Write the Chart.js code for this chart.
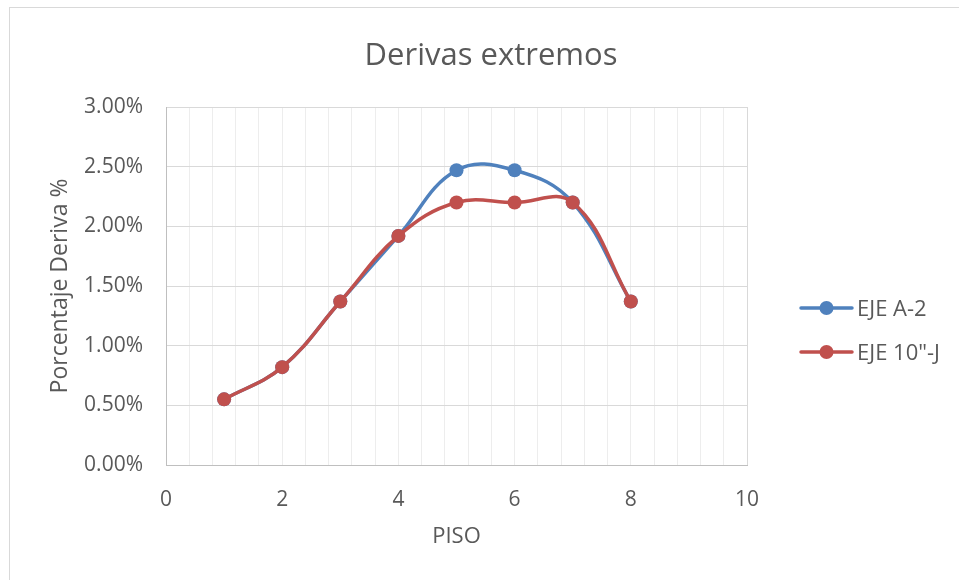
<!DOCTYPE html>
<html>
<head>
<meta charset="utf-8">
<title>Derivas extremos</title>
<script src="https://cdn.jsdelivr.net/npm/chart.js@4/dist/chart.umd.min.js"></script>
<style>
  html, body { margin: 0; padding: 0; background: #fff; }
  #wrap { position: relative; width: 959px; height: 580px; }
</style>
</head>
<body>
<div id="wrap"><canvas id="derivasChart" width="959" height="580"></canvas></div>
<script>
// Storey numbers and drift ratios (%)
const pisos = [1, 2, 3, 4, 5, 6, 7, 8];
const derivaA2 = [0.55, 0.82, 1.37, 1.92, 2.47, 2.47, 2.20, 1.37];
const deriva10J = [0.55, 0.82, 1.37, 1.92, 2.20, 2.20, 2.20, 1.37];
const seriesNames = ['EJE A-2', 'EJE 10"-J'];
const seriesColors = ['#4f81bd', '#c0504d'];
const xTickLabels = [0, 2, 4, 6, 8, 10];
const yTickLabels = [0, 0.5, 1, 1.5, 2, 2.5, 3];

const textColor = '#595959';
const fontFamily = '"Open Sans", "Noto Sans", sans-serif';

const toPoints = (ys) => pisos.map((x, i) => ({ x: x, y: ys[i] }));

// title, legend and outer frame drawn by hand
const decorations = {
  id: 'decorations',
  beforeDraw(chart) {
    const ctx = chart.ctx;
    ctx.save();
    ctx.strokeStyle = '#d9d9d9';
    ctx.lineWidth = 1;
    ctx.strokeRect(9.5, 7.5, 2000, 2000);
    ctx.restore();
  },
  afterDraw(chart) {
    const ctx = chart.ctx;
    ctx.save();
    ctx.fillStyle = textColor;
    ctx.textAlign = 'center';
    ctx.textBaseline = 'alphabetic';
    ctx.font = '31px ' + fontFamily;
    ctx.fillText('Derivas extremos', 491, 65);

    const rows = [308, 352];
    seriesNames.forEach((name, i) => {
      const y = rows[i];
      ctx.strokeStyle = seriesColors[i];
      ctx.lineWidth = 3.5;
      ctx.lineCap = 'round';
      ctx.beginPath();
      ctx.moveTo(801, y);
      ctx.lineTo(852, y);
      ctx.stroke();
      ctx.fillStyle = seriesColors[i];
      ctx.beginPath();
      ctx.arc(826.5, y, 7, 0, Math.PI * 2);
      ctx.fill();
      ctx.fillStyle = textColor;
      ctx.textAlign = 'left';
      ctx.font = '22px ' + fontFamily;
      ctx.fillText(name, 857, y + 8);
    });
    ctx.restore();
  }
};

const ctx = document.getElementById('derivasChart').getContext('2d');

new Chart(ctx, {
  type: 'scatter',
  data: {
    datasets: [
      {
        label: seriesNames[0],
        data: toPoints(derivaA2),
        borderColor: seriesColors[0],
        backgroundColor: seriesColors[0],
        order: 1
      },
      {
        label: seriesNames[1],
        data: toPoints(deriva10J),
        borderColor: seriesColors[1],
        backgroundColor: seriesColors[1],
        order: 0
      }
    ]
  },
  options: {
    responsive: false,
    animation: false,
    showLine: true,
    layout: { padding: { top: 107, right: 212, left: 0, bottom: 0 } },
    elements: {
      line: { tension: 0.4, borderWidth: 3.5, borderCapStyle: 'round' },
      point: { radius: 7, borderWidth: 0, hoverRadius: 7 }
    },
    plugins: {
      legend: { display: false },
      title: { display: false },
      tooltip: { enabled: false }
    },
    scales: {
      x: {
        type: 'linear',
        min: 0,
        max: 10,
        afterFit(scale) { scale.height = 115; },
        afterBuildTicks(scale) {
          // minor grid every 0.4, labels only on the even storeys
          const ticks = [];
          for (let i = 0; i <= 25; i++) ticks.push({ value: Math.round(i * 0.4 * 10) / 10 });
          scale.ticks = ticks;
        },
        ticks: {
          autoSkip: false,
          maxRotation: 0,
          padding: 22,
          color: textColor,
          font: { family: fontFamily, size: 21 },
          callback: (v) => xTickLabels.includes(v) ? String(v) : ''
        },
        grid: {
          drawTicks: false,
          color: (c) => c.tick && c.tick.value === 10 ? '#d9d9d9' : '#ededed',
          lineWidth: 1
        },
        border: { color: '#bfbfbf', width: 1 },
        title: {
          display: true,
          text: 'PISO',
          color: textColor,
          font: { family: fontFamily, size: 22 },
          padding: { top: 0, bottom: 30 }
        }
      },
      y: {
        min: 0,
        max: 3,
        afterFit(scale) { scale.width = 166; },
        afterBuildTicks(scale) {
          scale.ticks = yTickLabels.map((v) => ({ value: v }));
        },
        ticks: {
          padding: 23,
          color: textColor,
          font: { family: fontFamily, size: 21 },
          callback: (v) => v.toFixed(2) + '%'
        },
        grid: { drawTicks: false, color: '#d9d9d9', lineWidth: 1 },
        border: { color: '#bfbfbf', width: 1 },
        title: {
          display: true,
          text: 'Porcentaje Deriva %',
          color: textColor,
          font: { family: fontFamily, size: 23 },
          padding: { top: 47, bottom: 0 }
        }
      }
    }
  },
  plugins: [decorations]
});
</script>
</body>
</html>
